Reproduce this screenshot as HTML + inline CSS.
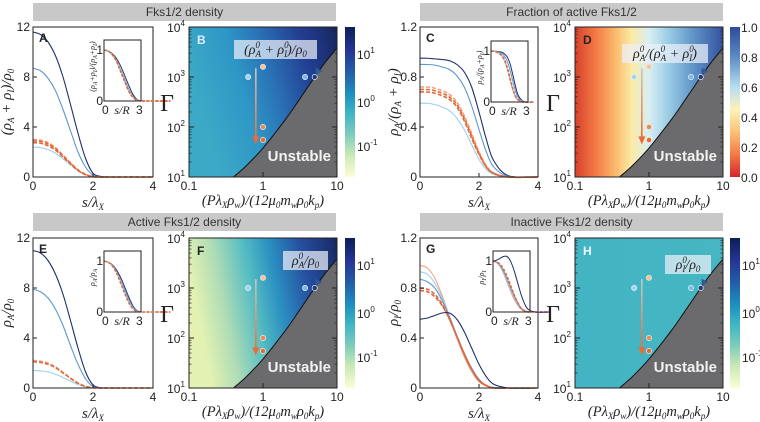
<!DOCTYPE html>
<html><head><meta charset="utf-8">
<style>
html,body{margin:0;padding:0;background:#fff;}
svg{display:block;font-family:"Liberation Sans",sans-serif;}
.tk{font-size:12px;fill:#222;}
.m{font-family:"Liberation Serif",serif;font-style:italic;fill:#222;}
.up{font-family:"Liberation Serif",serif;font-style:normal;fill:#222;}
.hdr{font-size:12px;fill:#333;}
</style></head>
<body>
<svg id="fig" width="760" height="422" viewBox="0 0 760 422" xmlns="http://www.w3.org/2000/svg">
<defs>
<linearGradient id="gB" x1="0" x2="1" y1="0.3" y2="0"><stop offset="0" stop-color="#3ca9c6"/><stop offset="0.3" stop-color="#2e97c6"/><stop offset="0.5" stop-color="#2a72b6"/><stop offset="0.75" stop-color="#233f93"/><stop offset="1" stop-color="#172660"/></linearGradient>
<linearGradient id="gD" x1="0" x2="1" y1="0" y2="0"><stop offset="0" stop-color="#d8412c"/><stop offset="0.14" stop-color="#f37a45"/><stop offset="0.27" stop-color="#fbb86a"/><stop offset="0.38" stop-color="#fde9a4"/><stop offset="0.5" stop-color="#d8eef2"/><stop offset="0.62" stop-color="#9fd0e6"/><stop offset="0.8" stop-color="#5f94c8"/><stop offset="1" stop-color="#3552a0"/></linearGradient>
<linearGradient id="gF" x1="0" x2="1" y1="0.2" y2="0"><stop offset="0" stop-color="#e3f1b2"/><stop offset="0.18" stop-color="#aedcb6"/><stop offset="0.38" stop-color="#55bdc2"/><stop offset="0.55" stop-color="#2b8fc1"/><stop offset="0.75" stop-color="#2650a0"/><stop offset="1" stop-color="#182865"/></linearGradient>
<linearGradient id="gH" x1="0" x2="1" y1="0" y2="0"><stop offset="0" stop-color="#43b4c3"/><stop offset="1" stop-color="#45b6c2"/></linearGradient>
<linearGradient id="cbY" x1="0" x2="0" y1="0" y2="1"><stop offset="0" stop-color="#0c1d59"/><stop offset="0.15" stop-color="#253494"/><stop offset="0.3" stop-color="#225ea8"/><stop offset="0.45" stop-color="#1d91c0"/><stop offset="0.58" stop-color="#41b6c4"/><stop offset="0.72" stop-color="#7fcdbb"/><stop offset="0.85" stop-color="#c7e9b4"/><stop offset="1" stop-color="#fdfdd6"/></linearGradient>
<linearGradient id="cbR" x1="0" x2="0" y1="0" y2="1"><stop offset="0" stop-color="#2f4a9c"/><stop offset="0.2" stop-color="#5b8cc4"/><stop offset="0.4" stop-color="#b7def0"/><stop offset="0.55" stop-color="#fdf3b8"/><stop offset="0.7" stop-color="#fcc175"/><stop offset="0.85" stop-color="#f47a46"/><stop offset="1" stop-color="#d3242a"/></linearGradient>
<linearGradient id="arH" x1="0" x2="1"><stop offset="0" stop-color="#9fd3ef"/><stop offset="1" stop-color="#2c5a9a"/></linearGradient>
<linearGradient id="arV" x1="0" x2="0" y1="0" y2="1"><stop offset="0" stop-color="#c7c7c7"/><stop offset="1" stop-color="#ee6a32"/></linearGradient>
</defs>
</svg>
<script>
// ---- data ----
const sGrid=[0,0.25,0.5,0.75,1,1.25,1.5,1.75,2,2.25,2.5,3,4];
const A_navy=[11.6,11.4,10.8,9.7,8.0,5.8,3.5,1.5,0.3,0.05,0,0,0];
const A_blue=[8.7,8.5,7.9,6.9,5.4,3.7,2.0,0.8,0.15,0,0,0,0];
const A_orL=[3.0,2.95,2.75,2.35,1.75,1.15,0.58,0.22,0.04,0,0,0,0];
const A_or1=[2.9,2.85,2.65,2.27,1.7,1.1,0.55,0.2,0.03,0,0,0,0];
const A_or2=[2.75,2.7,2.5,2.15,1.6,1.05,0.52,0.19,0.03,0,0,0,0];
const A_lb=[2.4,2.35,2.2,1.9,1.45,0.95,0.5,0.18,0.03,0,0,0,0];
const C_navy=[0.95,0.95,0.945,0.94,0.93,0.9,0.84,0.72,0.52,0.3,0.13,0.01,0];
const C_blue=[0.9,0.9,0.895,0.88,0.86,0.81,0.72,0.57,0.38,0.2,0.08,0.005,0];
const C_orL=[0.72,0.72,0.71,0.69,0.66,0.6,0.49,0.35,0.2,0.09,0.03,0,0];
const C_or1=[0.70,0.70,0.69,0.67,0.64,0.58,0.47,0.33,0.19,0.08,0.03,0,0];
const C_or2=[0.68,0.68,0.67,0.65,0.62,0.56,0.45,0.31,0.18,0.08,0.03,0,0];
const C_lb=[0.59,0.59,0.58,0.56,0.53,0.47,0.38,0.26,0.14,0.06,0.02,0,0];
const E_navy=[11,10.8,10.2,9.1,7.5,5.4,3.2,1.3,0.25,0.03,0,0,0];
const E_blue=[7.9,7.7,7.2,6.3,5.0,3.4,1.9,0.75,0.12,0,0,0,0];
const E_orL=[2.2,2.15,2.0,1.7,1.25,0.8,0.4,0.14,0.02,0,0,0,0];
const E_or1=[2.1,2.05,1.9,1.62,1.2,0.77,0.38,0.13,0.02,0,0,0,0];
const E_lb=[1.4,1.37,1.28,1.1,0.85,0.55,0.28,0.1,0.01,0,0,0,0];
const G_navy=[0.55,0.56,0.58,0.6,0.6,0.55,0.45,0.32,0.19,0.09,0.03,0,0];
const G_orL=[0.98,0.96,0.88,0.74,0.57,0.4,0.25,0.13,0.05,0.015,0,0,0];
const G_lb=[0.93,0.91,0.84,0.72,0.57,0.41,0.27,0.14,0.06,0.02,0,0,0];
const G_blue=[0.87,0.85,0.8,0.7,0.57,0.42,0.28,0.16,0.07,0.02,0.005,0,0];
const G_or1=[0.8,0.79,0.75,0.67,0.55,0.41,0.27,0.15,0.06,0.02,0,0,0];
const G_or2=[0.78,0.77,0.73,0.66,0.55,0.41,0.27,0.15,0.06,0.02,0,0,0];
const xTicksLine=[0,2,4];
const yTicksAE=[0,4,8,12];
const yTicksCG=["0","0.4","0.8","1.2"];
const bndX=[0.4,0.6,1,2,3,5,7,10];
const bndG=[10,17,38,140,330,1000,2000,3800];
const ptsBlueX=[0.63,3.7,5.0];
const ptsBlueG=[1000,1000,1000];
const ptsOrX=[1,1,1];
const ptsOrG=[1600,100,55];
const cbTicksD=["1.0","0.8","0.6","0.4","0.2","0.0"];

const NS="http://www.w3.org/2000/svg";
const svg=document.getElementById('fig');
function mk(tag,at,parent){const e=document.createElementNS(NS,tag);for(const k in at)e.setAttribute(k,at[k]);(parent||svg).appendChild(e);return e;}
function smooth(p){let d="M"+p[0][0]+","+p[0][1];for(let i=0;i<p.length-1;i++){const p0=p[i-1]||p[i],p1=p[i],p2=p[i+1],p3=p[i+2]||p2;d+=" C"+(p1[0]+(p2[0]-p0[0])/6)+","+(p1[1]+(p2[1]-p0[1])/6)+" "+(p2[0]-(p3[0]-p1[0])/6)+","+(p2[1]-(p3[1]-p1[1])/6)+" "+p2[0]+","+p2[1];}return d;}
function html(str,at){const t=mk('text',at);t.innerHTML=str;return t;}

const COL={navy:"#1e2f6b",blue:"#5b97d2",lb:"#9ad0ef",orL:"#f2a27c",or:"#e2683a"};

function linePanel(o){
  const g=mk('g',{});
  
  
  const X=s=>o.x0+s/4*(o.x1-o.x0), Y=v=>o.y1-v/o.ymax*(o.y1-o.y0);
  o.series.forEach(sr=>{
    const p=mk('path',{d:smooth(sGrid.map((s,i)=>[X(s),Y(sr.d[i])])),fill:"none",stroke:sr.c,"stroke-width":sr.dash?1.6:1.1,"stroke-dasharray":sr.dash?"4,2":"none"},g);
    
    
  });
  const fr=mk('rect',{x:o.x0,y:o.y0,width:o.x1-o.x0,height:o.y1-o.y0,fill:"none",stroke:"#222","stroke-width":1},g);
  
  
  xTicksLine.forEach(v=>{mk('line',{x1:X(v),x2:X(v),y1:o.y1,y2:o.y1-4,stroke:"#222"},g);
    const t=mk('text',{x:X(v),y:o.y1+13,"text-anchor":"middle",class:"tk"},g);t.textContent=v;
    });
  o.yt.forEach((lab,i)=>{const v=o.ymax*i/3;mk('line',{x1:o.x0,x2:o.x0+4,y1:Y(v),y2:Y(v),stroke:"#222"},g);
    const t=mk('text',{x:o.x0-3,y:Y(v)+4,"text-anchor":"end",class:"tk"},g);t.textContent=lab;
    });
  const L=mk('text',{x:o.x0+6,y:o.y0+15,"font-weight":"bold","font-size":"12",fill:"#222"},g);L.textContent=o.letter;
  
  // inset
  const ix0=o.ix,ix1=o.ix+37,iy0=o.iy,iy1=o.iy+61;
  const IX=s=>ix0+s/2.9*(ix1-ix0),IY=v=>iy1-v/1.2*(iy1-iy0);
  mk('rect',{x:ix0,y:iy0,width:37,height:61,fill:"#fff"},g);
  o.series.forEach(sr=>{const p=mk('path',{d:smooth(sGrid.map((s,i)=>[IX(s*o.isc),IY(sr.d[i]/o.inorm(sr))])),fill:"none",stroke:sr.c,"stroke-width":sr.dash?1.4:1,"stroke-dasharray":sr.dash?"3,1.5":"none"},g);
    });
  const ir=mk('rect',{x:ix0,y:iy0,width:37,height:61,fill:"none",stroke:"#222"},g);
  
  [[0,"0"],[1,"1"]].forEach(a=>{const t=mk('text',{x:ix0-1,y:IY(a[0])+4,"text-anchor":"end",class:"tk"},g);t.textContent=a[1];});
  const t1=mk('text',{x:ix0-2,y:iy1+13,class:"tk"},g);t1.textContent="0";
  const t3=mk('text',{x:ix1-5,y:iy1+13,class:"tk"},g);t3.textContent="3";
  html('s/R',{x:ix0+18,y:iy1+13,"text-anchor":"middle",class:"m","font-size":"12"});
  html('<tspan>s/λ</tspan><tspan font-size="9" dy="3">X</tspan>',{x:(o.x0+o.x1)/2,y:o.y1+30,"text-anchor":"middle",class:"m","font-size":"15"});
  const yl=html(o.ylab,{x:0,y:0,transform:"translate("+(o.x0-22)+","+((o.y0+o.y1)/2)+") rotate(-90)","text-anchor":"middle",class:"m","font-size":"15"});
  
  html(o.ilab,{x:0,y:0,transform:"translate("+(ix0-9)+","+((iy0+iy1)/2-4)+") rotate(-90)","text-anchor":"middle",class:"m","font-size":"8"});
}

function heatPanel(o){
  const g=mk('g',{});
  
  
  const X=v=>o.x0+(Math.log10(v)+1)/2*(o.x1-o.x0), Y=v=>o.y1-(Math.log10(v)-1)/3*(o.y1-o.y0);
  const bg=mk('rect',{x:o.x0,y:o.y0,width:o.x1-o.x0,height:o.y1-o.y0,fill:"url(#"+o.grad+")"},g);
  
  let pts=bndX.map((x,i)=>[X(x),Y(bndG[i])]);
  let d=smooth(pts)+" L"+o.x1+","+o.y1+" Z";
  const un=mk('path',{d:d,fill:"#6b6b6d"},g);
  
  mk('path',{d:smooth(pts),fill:"none",stroke:"#111","stroke-width":1},g);
  const ut=mk('text',{x:o.x1-6,y:o.y1-16,"text-anchor":"end","font-weight":"bold","font-size":"15",fill:"#f2f2f2"},g);ut.textContent="Unstable";
  
  const hy=Y(1300);
  mk('line',{x1:X(0.63),x2:X(5.3),y1:hy,y2:hy,stroke:"url(#arH)","stroke-width":1.5},g);
  mk('path',{d:`M${X(5.3)+6},${hy} l-7,-3.5 v7 z`,fill:"#2c5a9a"},g);
  const vx=X(0.8);
  mk('rect',{x:vx-0.8,y:Y(1500),width:1.6,height:Y(55)-Y(1500),fill:"url(#arV)"},g);
  mk('path',{d:`M${vx},${Y(45)} l-3.5,-8 h7 z`,fill:"#ee6a32"},g);
  const bc=["#9fd3ef","#7fb8e0","#1e3a7a"];
  ptsBlueX.forEach((x,i)=>{const c=mk('circle',{cx:X(x),cy:Y(ptsBlueG[i]),r:2.6,fill:bc[i],stroke:"#e8f4fb","stroke-width":0.7},g);
    });
  const oc=["#f2c39b","#e98a5b","#df6a3a"];
  ptsOrX.forEach((x,i)=>{const c=mk('circle',{cx:X(x),cy:Y(ptsOrG[i]),r:2.6,fill:oc[i],stroke:"#fde9da","stroke-width":0.7},g);
    });
  const lb=mk('rect',{x:o.bx,y:o.by,width:o.bw,height:19,fill:"rgba(235,240,248,0.72)"},g);
  
  html(o.blab,{x:o.bx+o.bw/2,y:o.by+14,"text-anchor":"middle",class:"m","font-size":"14"});
  const L=mk('text',{x:o.x0+8,y:o.y0+17,"font-weight":"bold","font-size":"12",fill:o.lc},g);L.textContent=o.letter;
  const fr=mk('rect',{x:o.x0,y:o.y0,width:o.x1-o.x0,height:o.y1-o.y0,fill:"none",stroke:"#222"},g);
  
  [1,2,3,4].forEach(e=>{const y=Y(Math.pow(10,e));mk('line',{x1:o.x0,x2:o.x0+5,y1:y,y2:y,stroke:"#222"},g);mk('line',{x1:o.x1,x2:o.x1-5,y1:y,y2:y,stroke:"#222"},g);
    html('10<tspan font-size="8" dy="-6">'+e+'</tspan>',{x:o.x0-13,y:y+5,"text-anchor":"middle",class:"tk"});
    for(let k=2;k<10&&e<4;k++){const yy=Y(k*Math.pow(10,e));mk('line',{x1:o.x0,x2:o.x0+2.5,y1:yy,y2:yy,stroke:"#222","stroke-width":0.7},g);mk('line',{x1:o.x1,x2:o.x1-2.5,y1:yy,y2:yy,stroke:"#222","stroke-width":0.7},g);}});
  [[0.1,"0.1"],[1,"1"],[10,"10"]].forEach(a=>{const x=X(a[0]);mk('line',{x1:x,x2:x,y1:o.y1,y2:o.y1-5,stroke:"#222"},g);
    const t=mk('text',{x:x,y:o.y1+13,"text-anchor":"middle",class:"tk"},g);t.textContent=a[1];});
  html('Γ',{x:o.x0-22,y:(o.y0+o.y1)/2+9,"text-anchor":"middle",class:"up","font-size":"24"});
  html('(Pλ<tspan font-size="9" dy="3">X</tspan><tspan dy="-3">ρ</tspan><tspan font-size="9" dy="3">w</tspan><tspan dy="-3">)/(12μ</tspan><tspan font-size="9" dy="3">0</tspan><tspan dy="-3">m</tspan><tspan font-size="9" dy="3">w</tspan><tspan dy="-3">ρ</tspan><tspan font-size="9" dy="3">0</tspan><tspan dy="-3">k</tspan><tspan font-size="9" dy="3">p</tspan><tspan dy="-3">)</tspan>',{x:(o.x0+o.x1)/2,y:o.y1+28,"text-anchor":"middle",class:"m","font-size":"14.5"});
  const cb=mk('rect',{x:o.cx,y:o.y0,width:10,height:o.y1-o.y0,fill:"url(#"+o.cb+")"},g);
  
  if(o.cb==="cbR"){cbTicksD.forEach((t,i)=>{const y=o.y0+i*(o.y1-o.y0)/5;const tx=mk('text',{x:o.cx+11,y:y+5,class:"tk","font-size":"13"},g);tx.textContent=t;});}
  else{[["1",55],["0",103],["-1",147]].forEach(a=>{html('10<tspan font-size="8" dy="-6">'+a[0]+'</tspan>',{x:o.cx+12,y:o.y0+a[1]-27+4,class:"tk"});});}
}

function header(x,y,w,txt){const r=mk('rect',{x:x,y:y,width:w,height:18,fill:"#c8c8c8"});
  
  const t=mk('text',{x:x+w/2,y:y+13,"text-anchor":"middle",class:"hdr"});t.textContent=txt;}
header(33,3,303,"Fks1/2 density");
header(420,3,303,"Fraction of active Fks1/2");
header(33,213,303,"Active Fks1/2 density");
header(420,213,303,"Inactive Fks1/2 density");

const sub='<tspan font-size="9" dy="3">', up='</tspan><tspan dy="-3">';
const s8='<tspan font-size="6" dy="2">', u8='</tspan><tspan dy="-2">';
linePanel({name:"panel-a",letter:"A",x0:33,x1:153,y0:27,y1:177,ymax:12,yt:yTicksAE.map(String),ix:104,iy:40,isc:1.3,inorm:s=>s.d[0],
  ylab:'(ρ'+sub+'A'+up+' + ρ'+sub+'I'+up+')/ρ'+sub+'0</tspan>',ilab:'(ρ'+s8+'A'+u8+'+ρ'+s8+'I'+u8+')/(ρ'+s8+'A'+u8+'+ρ'+s8+'I'+u8+')</tspan>',
  series:[{n:"navy",d:A_navy,c:COL.navy},{n:"blue",d:A_blue,c:COL.blue},{n:"lightblue",d:A_lb,c:COL.lb},{n:"orange-light",d:A_orL,c:COL.orL,dash:1},{n:"orange-1",d:A_or1,c:COL.or,dash:1},{n:"orange-2",d:A_or2,c:COL.or,dash:1}]});
linePanel({name:"panel-c",letter:"C",x0:420,x1:538,y0:27,y1:177,ymax:1.2,yt:yTicksCG,ix:491,iy:41,isc:0.85,inorm:s=>s.d[0],
  ylab:'ρ'+sub+'A'+up+'/(ρ'+sub+'A'+up+' + ρ'+sub+'I'+up+')</tspan>',ilab:'ρ'+s8+'A'+u8+'/(ρ'+s8+'A'+u8+'+ρ'+s8+'I'+u8+')</tspan>',
  series:[{n:"navy",d:C_navy,c:COL.navy},{n:"blue",d:C_blue,c:COL.blue},{n:"lightblue",d:C_lb,c:COL.lb},{n:"orange-light",d:C_orL,c:COL.orL,dash:1},{n:"orange-1",d:C_or1,c:COL.or,dash:1},{n:"orange-2",d:C_or2,c:COL.or,dash:1}]});
linePanel({name:"panel-e",letter:"E",x0:33,x1:153,y0:238,y1:388,ymax:12,yt:yTicksAE.map(String),ix:104,iy:251,isc:1.3,inorm:s=>s.d[0],
  ylab:'ρ'+sub+'A'+up+'/ρ'+sub+'0</tspan>',ilab:'ρ'+s8+'A'+u8+'/ρ'+s8+'A</tspan>',
  series:[{n:"navy",d:E_navy,c:COL.navy},{n:"blue",d:E_blue,c:COL.blue},{n:"lightblue",d:E_lb,c:COL.lb},{n:"orange-light",d:E_orL,c:COL.orL,dash:1},{n:"orange-1",d:E_or1,c:COL.or,dash:1}]});
linePanel({name:"panel-g",letter:"G",x0:420,x1:538,y0:238,y1:388,ymax:1.2,yt:yTicksCG,ix:493,iy:251,isc:1.1,inorm:s=>s.d[0]<0.7?0.55:s.d[0],
  ylab:'ρ'+sub+'I'+up+'/ρ'+sub+'0</tspan>',ilab:'ρ'+s8+'I'+u8+'/ρ'+s8+'I</tspan>',
  series:[{n:"orange-light",d:G_orL,c:COL.orL},{n:"lightblue",d:G_lb,c:COL.lb},{n:"blue",d:G_blue,c:COL.blue},{n:"orange-1",d:G_or1,c:COL.or,dash:1},{n:"orange-2",d:G_or2,c:COL.or,dash:1},{n:"navy",d:G_navy,c:COL.navy}]});

const r0=(a)=>'ρ<tspan font-size="9" dy="-6">0</tspan><tspan font-size="9" dx="-4.5" dy="9">'+a+'</tspan><tspan dy="-3">';
heatPanel({name:"panel-b",letter:"B",lc:"#dfefff",x0:189,x1:337,y0:27,y1:177,grad:"gB",cb:"cbY",cx:345,bx:234,by:40,bw:83,
  blab:'('+r0('A')+' + </tspan>'+r0('I')+')/ρ</tspan><tspan font-size="9" dy="3">0</tspan>'});
heatPanel({name:"panel-d",letter:"D",lc:"#222",x0:575,x1:723,y0:27,y1:177,grad:"gD",cb:"cbR",cx:730,bx:622,by:44,bw:86,
  blab:r0('A')+'/(</tspan>'+r0('A')+' + </tspan>'+r0('I')+')</tspan>'});
heatPanel({name:"panel-f",letter:"F",lc:"#222",x0:189,x1:337,y0:238,y1:388,grad:"gF",cb:"cbY",cx:345,bx:283,by:251,bw:45,
  blab:r0('A')+'/ρ</tspan><tspan font-size="9" dy="3">0</tspan>'});
heatPanel({name:"panel-h",letter:"H",lc:"#eef8ff",x0:575,x1:723,y0:238,y1:388,grad:"gH",cb:"cbY",cx:730,bx:665,by:255,bw:46,
  blab:r0('I')+'/ρ</tspan><tspan font-size="9" dy="3">0</tspan>'});
</script>
</body></html>
